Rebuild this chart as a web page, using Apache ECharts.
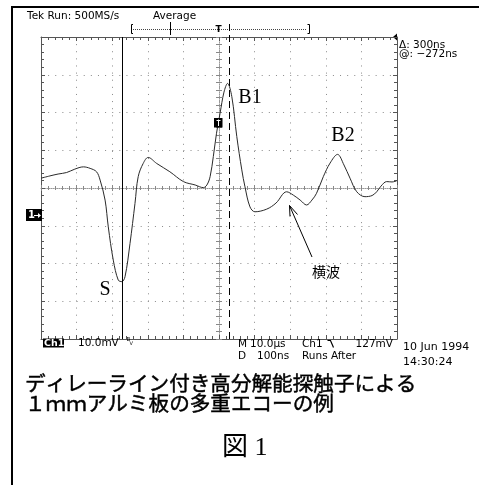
<!DOCTYPE html>
<html><head><meta charset="utf-8">
<script src="https://cdn.jsdelivr.net/npm/echarts@6/dist/echarts.min.js"></script>
<style>html,body{margin:0;padding:0;background:#fff}#c{width:484px;height:485px}</style>
</head><body><div id="c"></div>
<script>
// time relative to trigger (ns), 100 ns/div (delayed timebase)
const timeNs = [-500,-475,-452,-428,-405,-381,-362,-344,-334,-320,-311,-297,-283,-273,-264,-250,-236,-227,-213,-199,-175,-138,-100,-67,-44,-34,-25,-16,-7,3,14,24,36,50,64,73,87,101,134,160,190,209,228,246,261,274,293,312,333,351,368,387,410,430,443,455,471,486,499];
// channel 1 voltage (mV), 10 mV/div
const signalMv = [2.6,3.2,3.7,4.1,5.0,5.6,5.2,4.3,2.1,-3.2,-10.3,-19.1,-24.4,-24.8,-23.5,-14.7,-4.1,3.0,6.5,8.1,6.5,4.3,1.7,0.8,0.1,0.8,3.0,8.3,14.5,19.8,25.4,27.7,24.2,13.6,4.8,0.3,-5.0,-6.3,-5.6,-4.0,-1.0,-1.9,-3.2,-4.5,-3.2,-1.4,3.0,6.6,8.9,6.1,2.6,-1.0,-2.3,-2.0,-1.0,0.5,1.7,1.6,1.9];
const cursorAtNs = -272;
const cursorDeltaNs = 300;
const timeRange = [-500, 500];
const timeStep = 100;
const voltRange = [-40, 40];
const voltStep = 10;
const echoNames = ['B1', 'B2', 'S'];
const shearLabel = '横波';
const titleLines = ['ディレーライン付き高分解能探触子による', '１ｍｍアルミ板の多重エコーの例'];
const figLabel = '図 1';

const chart = echarts.init(document.getElementById('c'));
const edge = '#555';
const tickStyle = {color: edge, width: 1};
const cTick = {color: '#888', width: 1};
const baseX = {type:'value', min:timeRange[0], max:timeRange[1], interval:timeStep, axisLabel:{show:false}, splitLine:{show:false}};
const baseY = {type:'value', min:voltRange[0], max:voltRange[1], interval:voltStep, axisLabel:{show:false}, splitLine:{show:false}};
const dotted = {show:true, lineStyle:{color:'#8a8a8a', width:1, type:[1,6.12]}};

const option = {
  animation: false,
  backgroundColor: '#fff',
  grid: {left:41, right:87, top:37, bottom:146, show:false},
  xAxis: [
    Object.assign({}, baseX, {position:'bottom', axisLine:{onZero:false, lineStyle:{color:edge}}, axisTick:{inside:true, length:4, lineStyle:tickStyle}, minorTick:{show:true, splitNumber:5, length:3, lineStyle:tickStyle}, splitLine:dotted}),
    Object.assign({}, baseX, {position:'top', axisLine:{onZero:false, lineStyle:{color:edge}}, axisTick:{inside:true, length:4, lineStyle:tickStyle}, minorTick:{show:true, splitNumber:5, length:3, lineStyle:tickStyle}}),
    Object.assign({}, baseX, {position:'bottom', axisLine:{onZero:true, onZeroAxisIndex:0, lineStyle:{color:'#999', type:[1,1]}}, axisTick:{inside:false, length:3, lineStyle:cTick}, minorTick:{show:true, splitNumber:5, length:2, lineStyle:cTick}}),
    Object.assign({}, baseX, {position:'bottom', axisLine:{show:false, onZero:true, onZeroAxisIndex:0}, axisTick:{inside:true, length:3, lineStyle:cTick}, minorTick:{show:true, splitNumber:5, length:2, lineStyle:cTick}})
  ],
  yAxis: [
    Object.assign({}, baseY, {position:'left', axisLine:{onZero:false, lineStyle:{color:edge}}, axisTick:{inside:true, length:4, lineStyle:tickStyle}, minorTick:{show:true, splitNumber:5, length:3, lineStyle:tickStyle}, splitLine:dotted}),
    Object.assign({}, baseY, {position:'right', axisLine:{onZero:false, lineStyle:{color:edge}}, axisTick:{inside:true, length:4, lineStyle:tickStyle}, minorTick:{show:true, splitNumber:5, length:3, lineStyle:tickStyle}}),
    Object.assign({}, baseY, {position:'left', axisLine:{onZero:true, onZeroAxisIndex:0, lineStyle:{color:'#999', type:[1,1]}}, axisTick:{inside:false, length:3, lineStyle:cTick}, minorTick:{show:true, splitNumber:5, length:3, lineStyle:cTick}}),
    Object.assign({}, baseY, {position:'left', axisLine:{show:false, onZero:true, onZeroAxisIndex:0}, axisTick:{inside:true, length:3, lineStyle:cTick}, minorTick:{show:true, splitNumber:5, length:3, lineStyle:cTick}})
  ],
  series: [{
    type:'line', xAxisIndex:0, yAxisIndex:0,
    data: timeNs.map((t,i)=>[t, signalMv[i]]),
    showSymbol:false, smooth:0.35, silent:true,
    lineStyle:{color:'#2a2a2a', width:1},
    markLine:{
      silent:true, symbol:'none', label:{show:false}, animation:false,
      data:[
        {xAxis:cursorAtNs, lineStyle:{color:'#000', width:1, type:'solid'}},
        {xAxis:cursorAtNs+cursorDeltaNs, lineStyle:{color:'#000', width:1, type:[7,4]}}
      ]
    }
  }]
};
chart.setOption(option);

const G = [];
const sans = '"DejaVu Sans", Verdana, sans-serif';
function txt(x, y, s, size, extra) {
  G.push({type:'text', x:x, y:y, silent:true, z:10, style:Object.assign({text:s, fill:'#000', fontSize:size, fontFamily:sans, align:'left', verticalAlign:'middle'}, extra||{})});
}
function line(x1,y1,x2,y2,extra){
  G.push({type:'line', silent:true, z:10, shape:{x1:x1,y1:y1,x2:x2,y2:y2}, style:Object.assign({stroke:'#000', lineWidth:1}, extra||{})});
}
function rect(x,y,w,h,fill){
  G.push({type:'rect', silent:true, z:9, shape:{x:x,y:y,width:w,height:h}, style:{fill:fill||'#000'}});
}
// frame
rect(11, 6, 2, 479);
rect(11, 6, 468, 2);
// top status
txt(27, 16.5, 'Tek Run: 500MS/s', 10.5);
txt(153, 16.5, 'Average', 10.5);
// record bracket
G.push({type:'polyline', silent:true, shape:{points:[[133,24.5],[131.5,24.5],[131.5,33.5],[133,33.5]]}, style:{stroke:'#000', fill:null, lineWidth:1}});
G.push({type:'polyline', silent:true, shape:{points:[[307.5,24.5],[309.5,24.5],[309.5,33.5],[307.5,33.5]]}, style:{stroke:'#000', fill:null, lineWidth:1}});
line(133, 29.5, 307, 29.5, {lineDash:[1,1], stroke:'#444'});
line(170.5, 22, 170.5, 35);
txt(218.5, 29.5, 'T', 9, {align:'center', fontWeight:'bold'});
// cursor readouts
const cx2 = chart.convertToPixel({xAxisIndex:0}, cursorAtNs + cursorDeltaNs);
line(Math.round(cx2)+0.5, 24, Math.round(cx2)+0.5, 37, {lineDash:[7,4]});
txt(399, 45, 'Δ: ' + cursorDeltaNs + 'ns', 10.5);
txt(399, 54.5, '@: −' + Math.abs(cursorAtNs) + 'ns', 10.5);
G.push({type:'polygon', silent:true, shape:{points:[[393,37],[397,33.5],[397,40.5]]}, style:{fill:'#000'}});
// ground marker
rect(26, 209, 16, 12);
txt(28, 215.5, '1', 10, {fill:'#fff', fontWeight:'bold'});
line(34, 215.5, 39, 215.5, {stroke:'#fff'});
G.push({type:'polygon', silent:true, z:11, shape:{points:[[38,213],[41,215.5],[38,218]]}, style:{fill:'#fff'}});
// trigger marker on trace
rect(214, 118, 8.5, 9.5);
line(218.5, 119.5, 218.5, 126, {stroke:'#fff'});
line(216.5, 120.5, 220.5, 120.5, {stroke:'#fff'});
// bottom readouts
rect(43, 338.5, 21, 9);
txt(44, 343.5, 'Ch1', 9.5, {fill:'#fff', fontWeight:'bold'});
txt(78, 343.5, '10.0mV', 10.5);
txt(126.5, 340, 'B', 5.5);
txt(129.5, 343.5, 'V', 5);
txt(238, 344, 'M', 10.5);
txt(250, 344, '10.0µs', 10.5);
txt(302, 344, 'Ch1', 10.5);
G.push({type:'polyline', silent:true, shape:{points:[[327.5,340.5],[330.5,340.5],[333.5,347.5]]}, style:{stroke:'#000', fill:null, lineWidth:1.2}});
txt(393, 344, '127mV', 10.5, {align:'right'});
txt(238, 356, 'D', 10.5);
txt(257, 356, '100ns', 10.5);
txt(302, 356, 'Runs After', 10.5);
txt(403, 347.5, '10 Jun 1994', 11);
txt(403, 362, '14:30:24', 11);
// annotations
const serif = '"Liberation Serif", "Times New Roman", serif';
txt(250, 97.5, echoNames[0], 20, {align:'center', fontFamily:serif});
txt(343, 135.5, echoNames[1], 20, {align:'center', fontFamily:serif});
txt(105, 290, echoNames[2], 20, {align:'center', fontFamily:serif});
txt(326, 271.5, shearLabel, 14, {align:'center', fontFamily:'"Noto Sans CJK JP", sans-serif'});
line(312, 257, 289.5, 205.5);
line(289.5, 205.5, 290, 216.5);
line(289.5, 205.5, 297.5, 214.5);
// caption
const jp = '"Liberation Serif", "Noto Sans CJK JP", sans-serif';
txt(25, 386, titleLines[0], 20.6, {fontFamily:jp, stroke:'#000', lineWidth:0.45});
txt(25, 406, titleLines[1], 20.6, {fontFamily:jp, stroke:'#000', lineWidth:0.45});
txt(222, 448, figLabel, 26, {fontFamily:jp});

chart.setOption({graphic: G});
</script>
</body></html>
